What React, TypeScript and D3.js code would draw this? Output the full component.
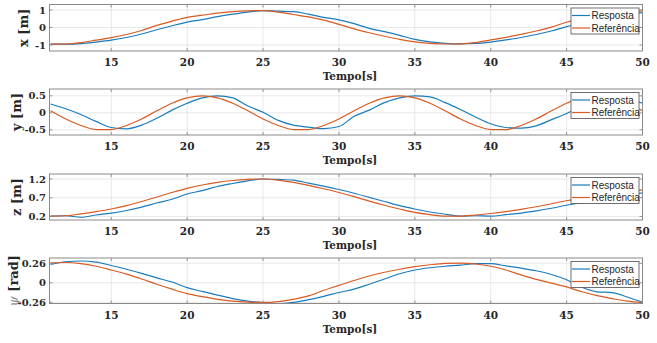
import React from 'react';
import * as d3 from 'd3';

const TIME = [11,12,13,14,15,16,17,18,19,20,21,22,23,24,25,26,27,28,29,30,31,32,33,34,35,36,37,38,39,40,41,42,43,44,45,46,47,48,49,50];
const X_TICKS = [15, 20, 25, 30, 35, 40, 45, 50];

const X_REF = [-0.95,-0.94,-0.86,-0.72,-0.58,-0.40,-0.17,0.12,0.36,0.58,0.70,0.82,0.90,0.95,0.96,0.88,0.74,0.60,0.42,0.18,-0.08,-0.30,-0.50,-0.68,-0.82,-0.90,-0.94,-0.93,-0.86,-0.71,-0.56,-0.39,-0.20,0.02,0.30,0.50,0.68,0.83,0.92,0.95];
const X_RESP = [-0.95,-0.95,-0.92,-0.83,-0.72,-0.57,-0.37,-0.13,0.10,0.31,0.45,0.62,0.76,0.88,0.96,0.93,0.90,0.76,0.58,0.43,0.22,-0.05,-0.24,-0.45,-0.68,-0.82,-0.90,-0.93,-0.91,-0.83,-0.71,-0.57,-0.40,-0.20,0.05,0.25,0.45,0.62,0.75,0.85];

const Y_REF = [0.06,-0.18,-0.37,-0.49,-0.49,-0.37,-0.18,0.06,0.28,0.44,0.50,0.44,0.28,0.06,-0.18,-0.37,-0.49,-0.49,-0.37,-0.18,0.06,0.28,0.44,0.50,0.44,0.28,0.06,-0.18,-0.37,-0.49,-0.49,-0.37,-0.18,0.06,0.28,0.44,0.50,0.44,0.28,0.06];
const Y_RESP = [0.26,0.12,-0.05,-0.25,-0.43,-0.47,-0.36,-0.16,0.08,0.28,0.44,0.50,0.44,0.20,0.02,-0.22,-0.36,-0.42,-0.46,-0.40,-0.10,0.08,0.30,0.44,0.50,0.47,0.30,0.10,-0.12,-0.32,-0.43,-0.45,-0.38,-0.20,-0.02,0.20,0.36,0.46,0.42,0.28];

const Z_REF = [0.21,0.22,0.27,0.33,0.40,0.49,0.60,0.72,0.84,0.95,1.04,1.11,1.16,1.19,1.20,1.17,1.11,1.03,0.94,0.84,0.73,0.61,0.50,0.40,0.31,0.25,0.21,0.21,0.24,0.28,0.33,0.39,0.46,0.54,0.62,0.69,0.75,0.80,0.86,0.91];
const Z_RESP = [0.21,0.22,0.18,0.24,0.29,0.36,0.45,0.56,0.66,0.80,0.89,1.00,1.08,1.15,1.20,1.19,1.17,1.09,1.01,0.92,0.82,0.71,0.60,0.49,0.40,0.32,0.26,0.21,0.22,0.21,0.25,0.29,0.35,0.42,0.50,0.57,0.64,0.71,0.77,0.83];

const PSI_REF = [0.265,0.27,0.255,0.22,0.17,0.115,0.05,-0.02,-0.085,-0.145,-0.185,-0.22,-0.245,-0.258,-0.262,-0.25,-0.22,-0.175,-0.10,-0.035,0.03,0.09,0.14,0.18,0.215,0.24,0.258,0.262,0.25,0.22,0.17,0.105,0.045,-0.005,-0.055,-0.12,-0.17,-0.21,-0.245,-0.265];
const PSI_RESP = [0.245,0.28,0.29,0.275,0.23,0.18,0.125,0.065,0.01,-0.065,-0.115,-0.165,-0.21,-0.245,-0.265,-0.278,-0.262,-0.225,-0.18,-0.13,-0.085,-0.02,0.05,0.12,0.17,0.20,0.22,0.235,0.255,0.255,0.225,0.195,0.16,0.11,0.04,-0.06,-0.12,-0.13,-0.19,-0.26];

const SERIES_NAMES = ['Resposta', 'Referência'];
const COLORS = ['#1a7cbf', '#d95a22'];

const PANELS = [
  { key: 'x', label: 'x', unit: '[m]', resp: X_RESP, ref: X_REF, domain: [-1.34, 1.31], ticks: [-1, 0, 1], labels: ['-1', '0', '1'], top: 4.5, bottom: 51, labelX: 23 },
  { key: 'y', label: 'y', unit: '[m]', resp: Y_RESP, ref: Y_REF, domain: [-0.65, 0.7], ticks: [-0.5, 0, 0.5], labels: ['-0.5', '0', '0.5'], top: 89, bottom: 135, labelX: 16 },
  { key: 'z', label: 'z', unit: '[m]', resp: Z_RESP, ref: Z_REF, domain: [0.107, 1.333], ticks: [0.2, 0.7, 1.2], labels: ['0.2', '0.7', '1.2'], top: 174, bottom: 220, labelX: 16 },
  { key: 'psi', label: 'ψ', unit: '[rad]', resp: PSI_RESP, ref: PSI_REF, domain: [-0.276, 0.33], ticks: [-0.26, 0, 0.26], labels: ['-0.26', '0', '0.26'], top: 258, bottom: 303.5, labelX: 13 },
];

const LEFT = 49.5;
const RIGHT = 642.5;
const SERIF = '"DejaVu Serif", "Liberation Serif", serif';
const SANS = '"Liberation Sans", Arial, sans-serif';

export default function App() {
  const x = d3.scaleLinear().domain([10.93, 50]).range([LEFT, RIGHT]);
  return (
    <svg width={657} height={343} style={{ position: 'absolute', left: 0, top: 0, background: '#fff' }}>
      <defs>
        {PANELS.map((p) => (
          <clipPath id={`clip-${p.key}`} key={p.key}>
            <rect x={LEFT} y={p.top} width={RIGHT - LEFT} height={p.bottom - p.top} />
          </clipPath>
        ))}
      </defs>
      {PANELS.map((p) => {
        const y = d3.scaleLinear().domain(p.domain).range([p.bottom, p.top]);
        const line = d3.line<number>().x((_, i) => x(TIME[i])).y((d) => y(d)).curve(d3.curveMonotoneX);
        const midY = (p.top + p.bottom) / 2;
        const legTop = p.top + 3.5;
        return (
          <g key={p.key}>
            <rect x={LEFT} y={p.top} width={RIGHT - LEFT} height={p.bottom - p.top} fill="#fff" />
            {X_TICKS.map((t) => (
              <line key={`gx${t}`} x1={x(t)} x2={x(t)} y1={p.top} y2={p.bottom} stroke="#e3e3e3" strokeWidth={0.8} />
            ))}
            {p.ticks.map((t) => (
              <line key={`gy${t}`} x1={LEFT} x2={RIGHT} y1={y(t)} y2={y(t)} stroke="#e3e3e3" strokeWidth={0.8} />
            ))}
            <g clipPath={`url(#clip-${p.key})`}>
              <path d={line(p.resp) || ''} fill="none" stroke={COLORS[0]} strokeWidth={1.2} />
              <path d={line(p.ref) || ''} fill="none" stroke={COLORS[1]} strokeWidth={1.2} />
            </g>
            {X_TICKS.map((t) => (
              <g key={`tx${t}`}>
                <line x1={x(t)} x2={x(t)} y1={p.bottom} y2={p.bottom - 3} stroke="#7f7f7f" strokeWidth={0.8} />
                <line x1={x(t)} x2={x(t)} y1={p.top} y2={p.top + 3} stroke="#7f7f7f" strokeWidth={0.8} />
                <text x={x(t)} y={p.bottom + 15} textAnchor="middle" fontFamily={SERIF} fontWeight="bold" fontSize={10.5} fill="#262626">{t}</text>
              </g>
            ))}
            {p.ticks.map((t, i) => (
              <g key={`ty${t}`}>
                <line x1={LEFT} x2={LEFT + 3} y1={y(t)} y2={y(t)} stroke="#7f7f7f" strokeWidth={0.8} />
                <line x1={RIGHT} x2={RIGHT - 3} y1={y(t)} y2={y(t)} stroke="#7f7f7f" strokeWidth={0.8} />
                <text x={LEFT - 3.5} y={y(t) + 3.6} textAnchor="end" fontFamily={SERIF} fontWeight="bold" fontSize={10} fill="#262626">{p.labels[i]}</text>
              </g>
            ))}
            <rect x={LEFT} y={p.top} width={RIGHT - LEFT} height={p.bottom - p.top} fill="none" stroke="#8a8a8a" strokeWidth={1} />
            <text x={(LEFT + RIGHT) / 2 + 4} y={p.bottom + 29} textAnchor="middle" fontFamily={SERIF} fontWeight="bold" fontSize={10.5} fill="#262626">Tempo[s]</text>
            <text transform={`translate(${p.labelX},${midY}) rotate(-90)`} textAnchor="middle" dominantBaseline="central" fontFamily={SERIF} fontSize={13} fill="#262626">
              {p.key === 'psi'
                ? (<><tspan fontStyle="italic" fill="#8a8a8a">{p.label}</tspan><tspan fontWeight="bold">{' ' + p.unit}</tspan></>)
                : (<tspan fontWeight="bold">{p.label + ' ' + p.unit}</tspan>)}
            </text>
            <g>
              <rect x={571} y={legTop} width={68} height={26} fill="#fff" stroke="#4d4d4d" strokeWidth={0.8} />
              {SERIES_NAMES.map((name, i) => (
                <g key={name}>
                  <line x1={572} x2={590} y1={legTop + 7.5 + i * 12.5} y2={legTop + 7.5 + i * 12.5} stroke={COLORS[i]} strokeWidth={1.2} />
                  <text x={591.5} y={legTop + 11 + i * 12.5} fontFamily={SANS} fontSize={10} fill="#262626">{name}</text>
                </g>
              ))}
            </g>
          </g>
        );
      })}
    </svg>
  );
}
